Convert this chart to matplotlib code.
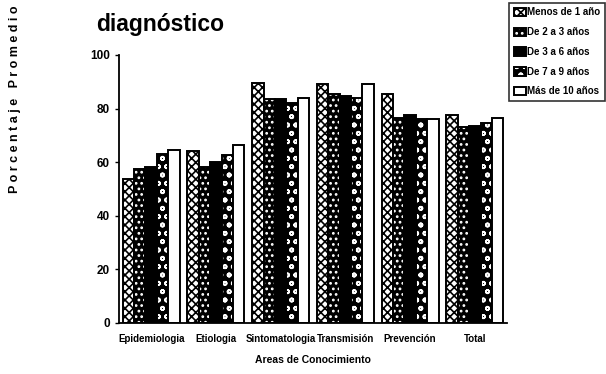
import numpy as np
import matplotlib.pyplot as plt
from matplotlib import font_manager

# Areas de conocimiento y grupos por tiempo de diagnóstico
areas = ['Epidemiologia', 'Etiologia', 'Sintomatologia', 'Transmisión', 'Prevención', 'Total']
grupos = ['Menos de 1 año', 'De 2 a 3 años', 'De 3 a 6 años', 'De 7 a 9 años', 'Más de 10 años']

menos_1 = [53.5, 64, 89.5, 89, 85.5, 77.5]
de_2_3 = [57.5, 58, 83.5, 85.5, 76.5, 73]
de_3_6 = [58, 60, 83.5, 84.5, 77.5, 73.5]
de_7_9 = [63, 62.5, 82, 84, 76, 74.5]
mas_10 = [64.5, 66.5, 84, 89, 76, 76.5]

series = [menos_1, de_2_3, de_3_6, de_7_9, mas_10]

# relleno, color de la trama, trama
estilos = [
    ('white', 'black', 'xxxx'),
    ('black', 'white', '...'),
    ('black', 'black', None),
    ('black', 'white', 'oo'),
    ('white', 'black', None),
]

fuentes = {f.name for f in font_manager.fontManager.ttflist}
narrow = 'Liberation Sans Narrow' if 'Liberation Sans Narrow' in fuentes else 'Liberation Sans'
plt.rcParams['font.family'] = [narrow, 'DejaVu Sans']
plt.rcParams['hatch.linewidth'] = 1.2

fig = plt.figure(figsize=(6.06, 3.74), dpi=100)
ax = fig.add_axes([0.196, 0.137, 0.641, 0.716])

x = np.arange(len(areas))
ancho = 0.176
handles = []
for i, (vals, (fc, hc, hatch)) in enumerate(zip(series, estilos)):
    pos = x + (i - 2) * ancho
    # primero la trama con su propio color, luego el contorno negro
    relleno = ax.bar(pos, vals, ancho, color=fc, edgecolor=hc, hatch=hatch, linewidth=0)
    borde = ax.bar(pos, vals, ancho, fill=False, edgecolor='black', linewidth=1.4)
    handles.append((relleno[0], borde[0]))

ax.set_xlim(-0.5, len(areas) - 0.5)
ax.set_ylim(0, 100)
ax.set_yticks([0, 20, 40, 60, 80, 100])
ax.set_xticks(x)
ax.set_xticklabels(areas, fontsize=7, fontweight='bold')
ax.tick_params(axis='x', length=0, pad=8)
ax.tick_params(axis='y', labelsize=8.5, length=3, width=1, direction='out')
for lab in ax.get_yticklabels():
    lab.set_fontweight('bold')
ax.spines['top'].set_visible(False)
ax.spines['right'].set_visible(False)
ax.spines['left'].set_linewidth(1.3)
ax.spines['bottom'].set_linewidth(1.3)

ax.set_xlabel('Areas de Conocimiento', fontsize=7.5, fontweight='bold', labelpad=8)

fig.text(0.024, 0.735, 'P o r c e n t a j e   P r o m e d i o', rotation=90,
         ha='center', va='center', fontsize=9, fontweight='bold',
         family=['Liberation Sans', 'DejaVu Sans'])

fig.text(0.265, 0.966, 'diagnóstico', ha='center', va='top',
         fontsize=16.5, fontweight='bold', family=['Liberation Sans', 'DejaVu Sans'])

leg = fig.legend(handles, grupos, loc='upper right', bbox_to_anchor=(0.999, 0.993),
                 frameon=True, fancybox=False, edgecolor='black', handlelength=1.3,
                 handleheight=1.0, handletextpad=0.1, labelspacing=1.0,
                 borderpad=0.5, borderaxespad=0,
                 prop={'weight': 'bold', 'size': 7, 'family': [narrow, 'DejaVu Sans']})
leg.get_frame().set_linewidth(1.2)

fig.savefig('out.png', dpi=100)
